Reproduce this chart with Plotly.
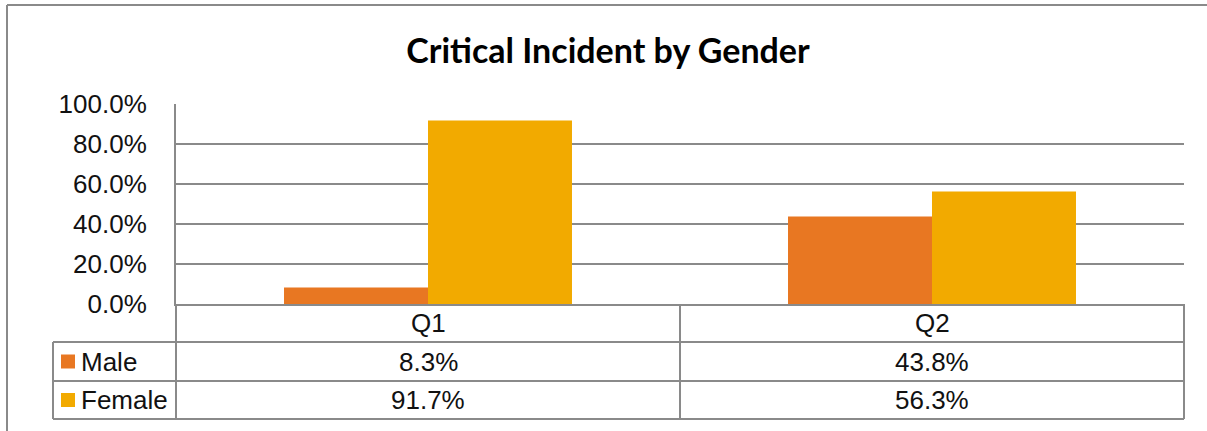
import plotly.graph_objects as go

# ---- data ----
categories = ["Q1", "Q2"]
series_names = ["Male", "Female"]
male_values = [8.3, 43.8]
female_values = [91.7, 56.3]
y_ticks = [0, 20, 40, 60, 80, 100]
y_tick_labels = ["0.0%", "20.0%", "40.0%", "60.0%", "80.0%", "100.0%"]
title_text = "Critical Incident by Gender"

# ---- style ----
colors = ["#E87722", "#F2AA00"]
line_col = "#8A8A8A"
W, H = 1207, 431
L, T = 176, 104
R = W - 1184
B = H - 304
PW, PH = W - L - R, H - T - B

def px_x(px):
    return (px - L) / PW

def px_y(py):
    return (H - B - py) / PH

fig = go.Figure()
for name, vals, col in zip(series_names, [male_values, female_values], colors):
    fig.add_trace(go.Bar(x=categories, y=vals, name=name, marker=dict(color=col, line=dict(width=0))))

shapes = []
def hline(x0, x1, y):
    shapes.append(dict(type="line", xref="paper", yref="paper", x0=px_x(x0), x1=px_x(x1),
                       y0=px_y(y), y1=px_y(y), line=dict(color=line_col, width=2)))

def vline(x, y0, y1):
    shapes.append(dict(type="line", xref="paper", yref="paper", x0=px_x(x), x1=px_x(x),
                       y0=px_y(y0), y1=px_y(y1), line=dict(color=line_col, width=2)))

# outer chart frame
hline(7, 1215, 5)
vline(7, 5, 440)

# data table
row_edges = [304, 342, 381, 419]
tbl_left = 53
hline(tbl_left, 1184, 342)
hline(tbl_left, 1184, 381)
hline(tbl_left, 1184, 419)
vline(tbl_left, 342, 419)
vline(176, 304, 419)
vline(680, 304, 419)
vline(1184, 304, 419)

FS = 26
annotations = []
for c in categories:
    annotations.append(dict(x=c, xref="x", y=px_y((row_edges[0] + row_edges[1]) / 2), yref="paper",
                            text=c, showarrow=False, font=dict(size=FS, color="#111"),
                            xanchor="center", yanchor="middle"))
for i, (name, vals, col) in enumerate(zip(series_names, [male_values, female_values], colors)):
    yc = (row_edges[i + 1] + row_edges[i + 2]) / 2
    shapes.append(dict(type="rect", xref="paper", yref="paper", x0=px_x(61), x1=px_x(75),
                       y0=px_y(yc - 7), y1=px_y(yc + 7), fillcolor=col, line=dict(width=0)))
    annotations.append(dict(x=px_x(79), xref="paper", y=px_y(yc), yref="paper", text=name,
                            showarrow=False, font=dict(size=FS, color="#111"),
                            xanchor="left", yanchor="middle"))
    for c, v in zip(categories, vals):
        annotations.append(dict(x=c, xref="x", y=px_y(yc), yref="paper", text=f"{v:.1f}%",
                                showarrow=False, font=dict(size=FS, color="#111"),
                                xanchor="center", yanchor="middle"))

fig.update_layout(
    width=W, height=H,
    margin=dict(l=L, r=R, t=T, b=B, autoexpand=False),
    paper_bgcolor="white", plot_bgcolor="white",
    showlegend=False,
    barmode="group", bargap=0.4286, bargroupgap=0,
    font=dict(family="Liberation Sans, Arial, sans-serif", size=FS, color="#111"),
    title=dict(text="<b>" + title_text + "</b>", x=608 / W, xref="container", xanchor="center",
               y=1 - 51 / H, yref="container", yanchor="middle",
               font=dict(family="Lato, Open Sans, sans-serif", size=34, color="#000")),
    xaxis=dict(showticklabels=False, showgrid=False, zeroline=False, showline=True,
               linecolor=line_col, linewidth=2, ticks=""),
    yaxis=dict(range=[0, 100], tickvals=y_ticks, ticktext=y_tick_labels, showgrid=True,
               gridcolor=line_col, gridwidth=2, zeroline=False, showline=True,
               linecolor=line_col, linewidth=2, ticks="", ticklabelstandoff=22,
               tickfont=dict(size=FS, color="#111")),
    shapes=shapes, annotations=annotations,
)

fig.write_html("out.html", config={"displayModeBar": False},
               post_script="document.body.style.margin='0';document.body.style.overflow='hidden';")
